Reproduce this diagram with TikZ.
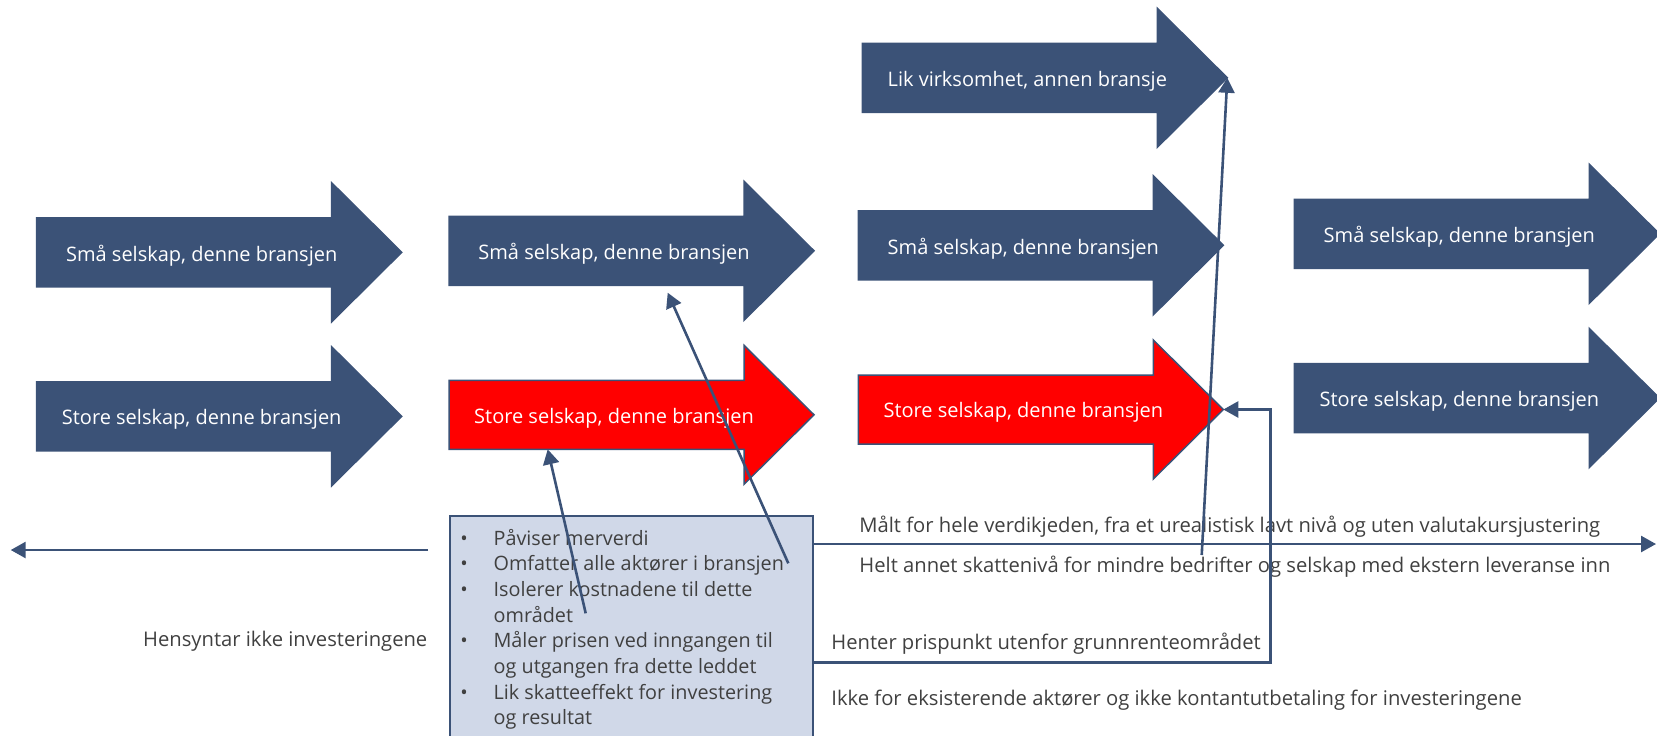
\documentclass[tikz,border=0pt]{standalone}
\usepackage{fontspec}
\setmainfont{Open Sans}
\usetikzlibrary{arrows.meta,calc}
\definecolor{navy}{HTML}{3B5277}
\definecolor{boxfill}{HTML}{D0D8E8}
\definecolor{txt}{HTML}{404040}
\definecolor{hotred}{HTML}{FF0000}
\tikzset{
  px/.style={x=0.5pt,y=-0.5pt},
  shaftbox/.style={fill=navy, draw=navy, line width=0.75pt, line join=miter},
  arrowlabel/.style={text=white, font=\fontsize{10}{12}\selectfont, inner sep=0pt},
  conn/.style={draw=navy, line width=1.3pt},
  arrowend/.style={-{Triangle[length=7.5pt,width=8pt]}},
  note/.style={text=txt, font=\fontsize{10.1}{12}\selectfont, inner sep=0pt},
  listline/.style={text=txt, font=\fontsize{9.9}{12}\selectfont, inner sep=0pt, anchor=base west},
  listbox/.style={fill=boxfill, draw=navy, line width=1pt, inner sep=0pt, minimum width=181.5pt, minimum height=125pt},
}
\newcommand\shaftarrow[5]{%
  \path[shaftbox, fill=#2] (#3,#4-34.5) -- (#3+295,#4-34.5) -- (#3+295,#4-69.5) -- (#3+365,#4) -- (#3+295,#4+69.5) -- (#3+295,#4+34.5) -- (#3,#4+34.5) -- cycle;
  \node[arrowlabel] (#1) at (#3+165,#4+3) {#5};
  \coordinate (#1-tip) at (#3+365,#4);
}
\newcommand\bul{\makebox[16.6pt][l]{\textbullet}}
\begin{document}
\begin{tikzpicture}[px]
\useasboundingbox (0,0) rectangle (1657,735);
\clip (0,0) rectangle (1657,735);
% arrows
\shaftarrow{s1}{navy}{36.7}{252.3}{Små selskap, denne bransjen}
\shaftarrow{t1}{navy}{36.7}{416.3}{Store selskap, denne bransjen}
\shaftarrow{s2}{navy}{449}{250.8}{Små selskap, denne bransjen}
\shaftarrow{t2}{hotred}{449}{414.8}{Store selskap, denne bransjen}
\shaftarrow{lik}{navy}{862.3}{77.8}{Lik virksomhet, annen bransje}
\shaftarrow{s3}{navy}{858.3}{245.3}{Små selskap, denne bransjen}
\shaftarrow{t3}{hotred}{858.3}{409.5}{Store selskap, denne bransjen}
\shaftarrow{s4}{navy}{1294.3}{233.8}{Små selskap, denne bransjen}
\shaftarrow{t4}{navy}{1294.3}{398}{Store selskap, denne bransjen}
% box
\node[listbox, anchor=north west, minimum height=250pt] (box) at (449.3,515) {};
\node[listline] (l1) at (460,545) {\bul Påviser merverdi};
\node[listline] (l2) at (460,570.7) {\bul Omfatter alle aktører i bransjen};
\node[listline] (l3) at (460,596.4) {\bul Isolerer kostnadene til dette};
\node[listline] (l4) at (493.3,622.1) {området};
\node[listline] (l5) at (460,647.8) {\bul Måler prisen ved inngangen til};
\node[listline] (l6) at (493.3,673.5) {og utgangen fra dette leddet};
\node[listline] (l7) at (460,699.2) {\bul Lik skatteeffekt for investering};
\node[listline] (l8) at (493.3,724.9) {og resultat};
% side texts
\node[note, anchor=base east] (hens) at (427.7,646) {Hensyntar ikke investeringene};
\node[note, anchor=base west] (maalt) at (859,532.7) {Målt for hele verdikjeden, fra et urealistisk lavt nivå og uten valutakursjustering};
\node[note, anchor=base west] (helt) at (859,572) {Helt annet skattenivå for mindre bedrifter og selskap med ekstern leveranse inn};
\node[note, anchor=base west] (hent) at (831,649) {Henter prispunkt utenfor grunnrenteområdet};
\node[note, anchor=base west] (ikke) at (831,705) {Ikke for eksisterende aktører og ikke kontantutbetaling for investeringene};
% connectors
\coordinate (leftStart) at (428,550);
\coordinate (leftEnd) at (10.7,550);
\draw[conn, arrowend] (leftStart) -- (leftEnd);
\coordinate (rightEnd) at (1656,544);
\draw[conn, arrowend] (box.east |- rightEnd) -- (rightEnd);
\coordinate (corner) at (1270.7,662.7);
\draw[conn, arrowend] (box.east |- corner) -- (corner) -- (corner |- t3-tip) -- (t3-tip);
\coordinate (d1s) at (585.7,613.3);
\coordinate (d1e) at (547.7,449.3);
\draw[conn, arrowend] (d1s) -- (d1e);
\coordinate (d2s) at (788.3,563.3);
\coordinate (d2e) at (667.7,292.7);
\draw[conn, arrowend] (d2s) -- (d2e);
\coordinate (d3s) at (1201.7,555);
\draw[conn, arrowend] (d3s) -- (lik-tip);
\end{tikzpicture}
\end{document}
